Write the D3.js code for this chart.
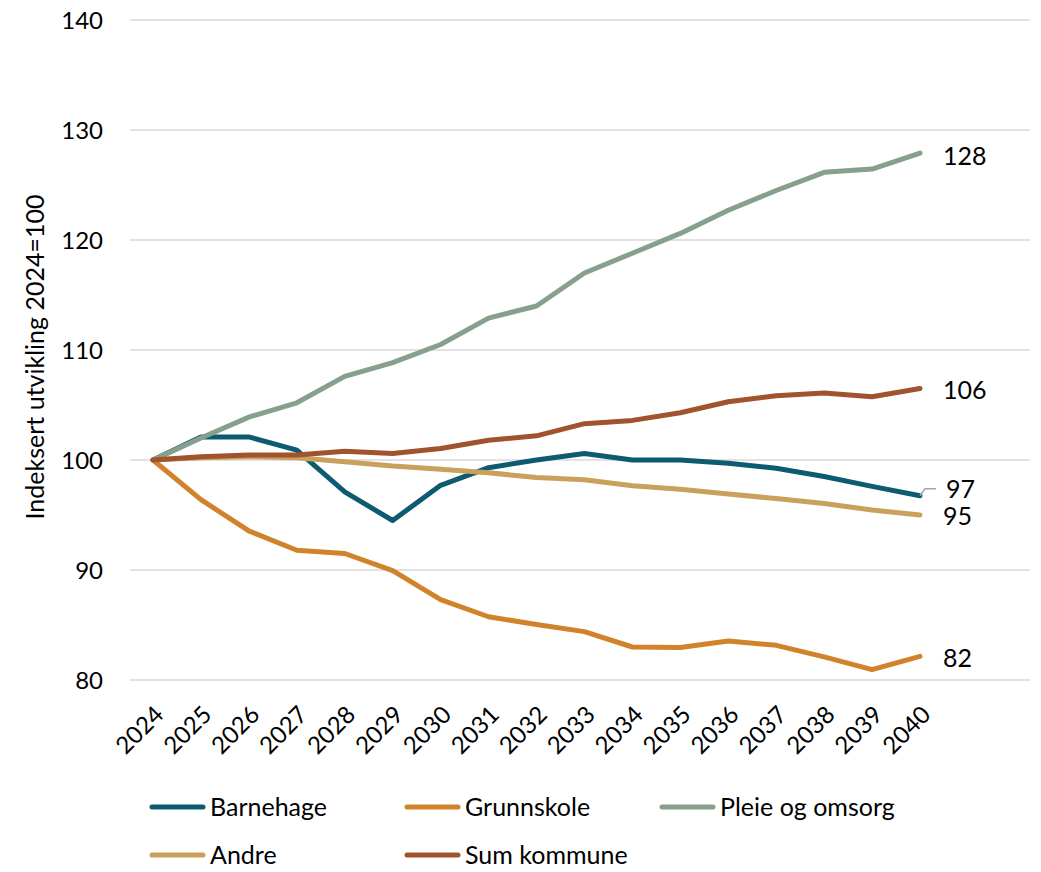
<!DOCTYPE html>
<html><head><meta charset="utf-8">
<script src="https://cdn.jsdelivr.net/npm/d3@7"></script>
<style>body{margin:0;background:#fff}svg{display:block;font-family:Lato,"Open Sans",sans-serif}</style>
</head><body><svg id="c" width="1041" height="872"></svg>
<script>
const years = [2024,2025,2026,2027,2028,2029,2030,2031,2032,2033,2034,2035,2036,2037,2038,2039,2040];
const barnehage = [100,102.1,102.1,100.9,97.1,94.5,97.7,99.3,100.0,100.6,100.0,100.0,99.7,99.25,98.5,97.6,96.75];
const grunnskole = [100,96.4,93.55,91.8,91.5,89.95,87.3,85.75,85.05,84.4,83.0,82.95,83.55,83.15,82.1,80.95,82.15];
const pleie = [100,102.0,103.9,105.2,107.6,108.85,110.5,112.9,114.0,117.0,118.8,120.6,122.7,124.5,126.15,126.45,127.9];
const andre = [100,100.2,100.3,100.2,99.85,99.45,99.15,98.85,98.4,98.2,97.65,97.35,96.9,96.5,96.05,95.45,95.0];
const sumKommune = [100,100.3,100.45,100.45,100.8,100.6,101.05,101.8,102.2,103.3,103.6,104.3,105.3,105.85,106.1,105.75,106.5];
const seriesNames = ["Barnehage","Grunnskole","Pleie og omsorg","Andre","Sum kommune"];
const endLabels = ["97","82","128","95","106"];
const yTicks = [80,90,100,110,120,130,140];
const colors = ["#0d5b70","#d0832b","#87a08e","#c9a05c","#a0532c"];
const data = [barnehage, grunnskole, pleie, andre, sumKommune];

const svg = d3.select("#c");
const x = d3.scalePoint().domain(years).range([153, 920]);
const y = d3.scaleLinear().domain([80,140]).range([680, 20]);

svg.append("g").selectAll("line").data(yTicks).join("line")
  .attr("x1",130).attr("x2",1030).attr("y1",d=>y(d)).attr("y2",d=>y(d))
  .attr("stroke","#d9d9d9").attr("stroke-width",1.5);

svg.append("g").selectAll("text").data(yTicks).join("text")
  .attr("x",103).attr("y",d=>y(d)).attr("dy","0.36em").attr("text-anchor","end")
  .attr("font-size",24).attr("fill","#000").text(d=>d);

svg.append("g").selectAll("text").data(years).join("text")
  .attr("transform",d=>`translate(${x(d)+6},${710}) rotate(-45)`)
  .attr("text-anchor","end").attr("dy","0.36em")
  .attr("font-size",24).attr("fill","#000").text(d=>d);

svg.append("text").attr("transform","translate(44,357) rotate(-90)")
  .attr("text-anchor","middle").attr("font-size",25).text("Indeksert utvikling 2024=100");

const line = d3.line().x((d,i)=>x(years[i])).y(d=>y(d));
svg.append("g").selectAll("path").data(data).join("path")
  .attr("d",line).attr("fill","none").attr("stroke",(d,i)=>colors[i])
  .attr("stroke-width",5).attr("stroke-linejoin","round").attr("stroke-linecap","round");

const labelY = [489, 658, 156, 516, 390];
const labelX = [946, 943, 943, 943, 943];
svg.append("g").selectAll("text").data(endLabels).join("text")
  .attr("x",(d,i)=>labelX[i]).attr("y",(d,i)=>labelY[i]).attr("dy","0.36em")
  .attr("font-size",25).attr("fill","#000").text(d=>d);
const lx = x(2040), ly = y(barnehage[16]);
svg.append("path").attr("d",`M${lx},${ly} L${lx+5},${ly-7} L${lx+16},${ly-7}`)
  .attr("fill","none").attr("stroke","#a6a6a6").attr("stroke-width",1.5);

const legPos = [[150,807],[405,807],[660,807],[150,855],[405,855]];
const lg = svg.append("g").selectAll("g").data(seriesNames).join("g")
  .attr("transform",(d,i)=>`translate(${legPos[i][0]},${legPos[i][1]})`);
lg.append("line").attr("x1",2).attr("x2",53).attr("stroke",(d,i)=>colors[i])
  .attr("stroke-width",5).attr("stroke-linecap","round");
lg.append("text").attr("x",60).attr("dy","0.36em").attr("font-size",25).text(d=>d);
</script></body></html>
